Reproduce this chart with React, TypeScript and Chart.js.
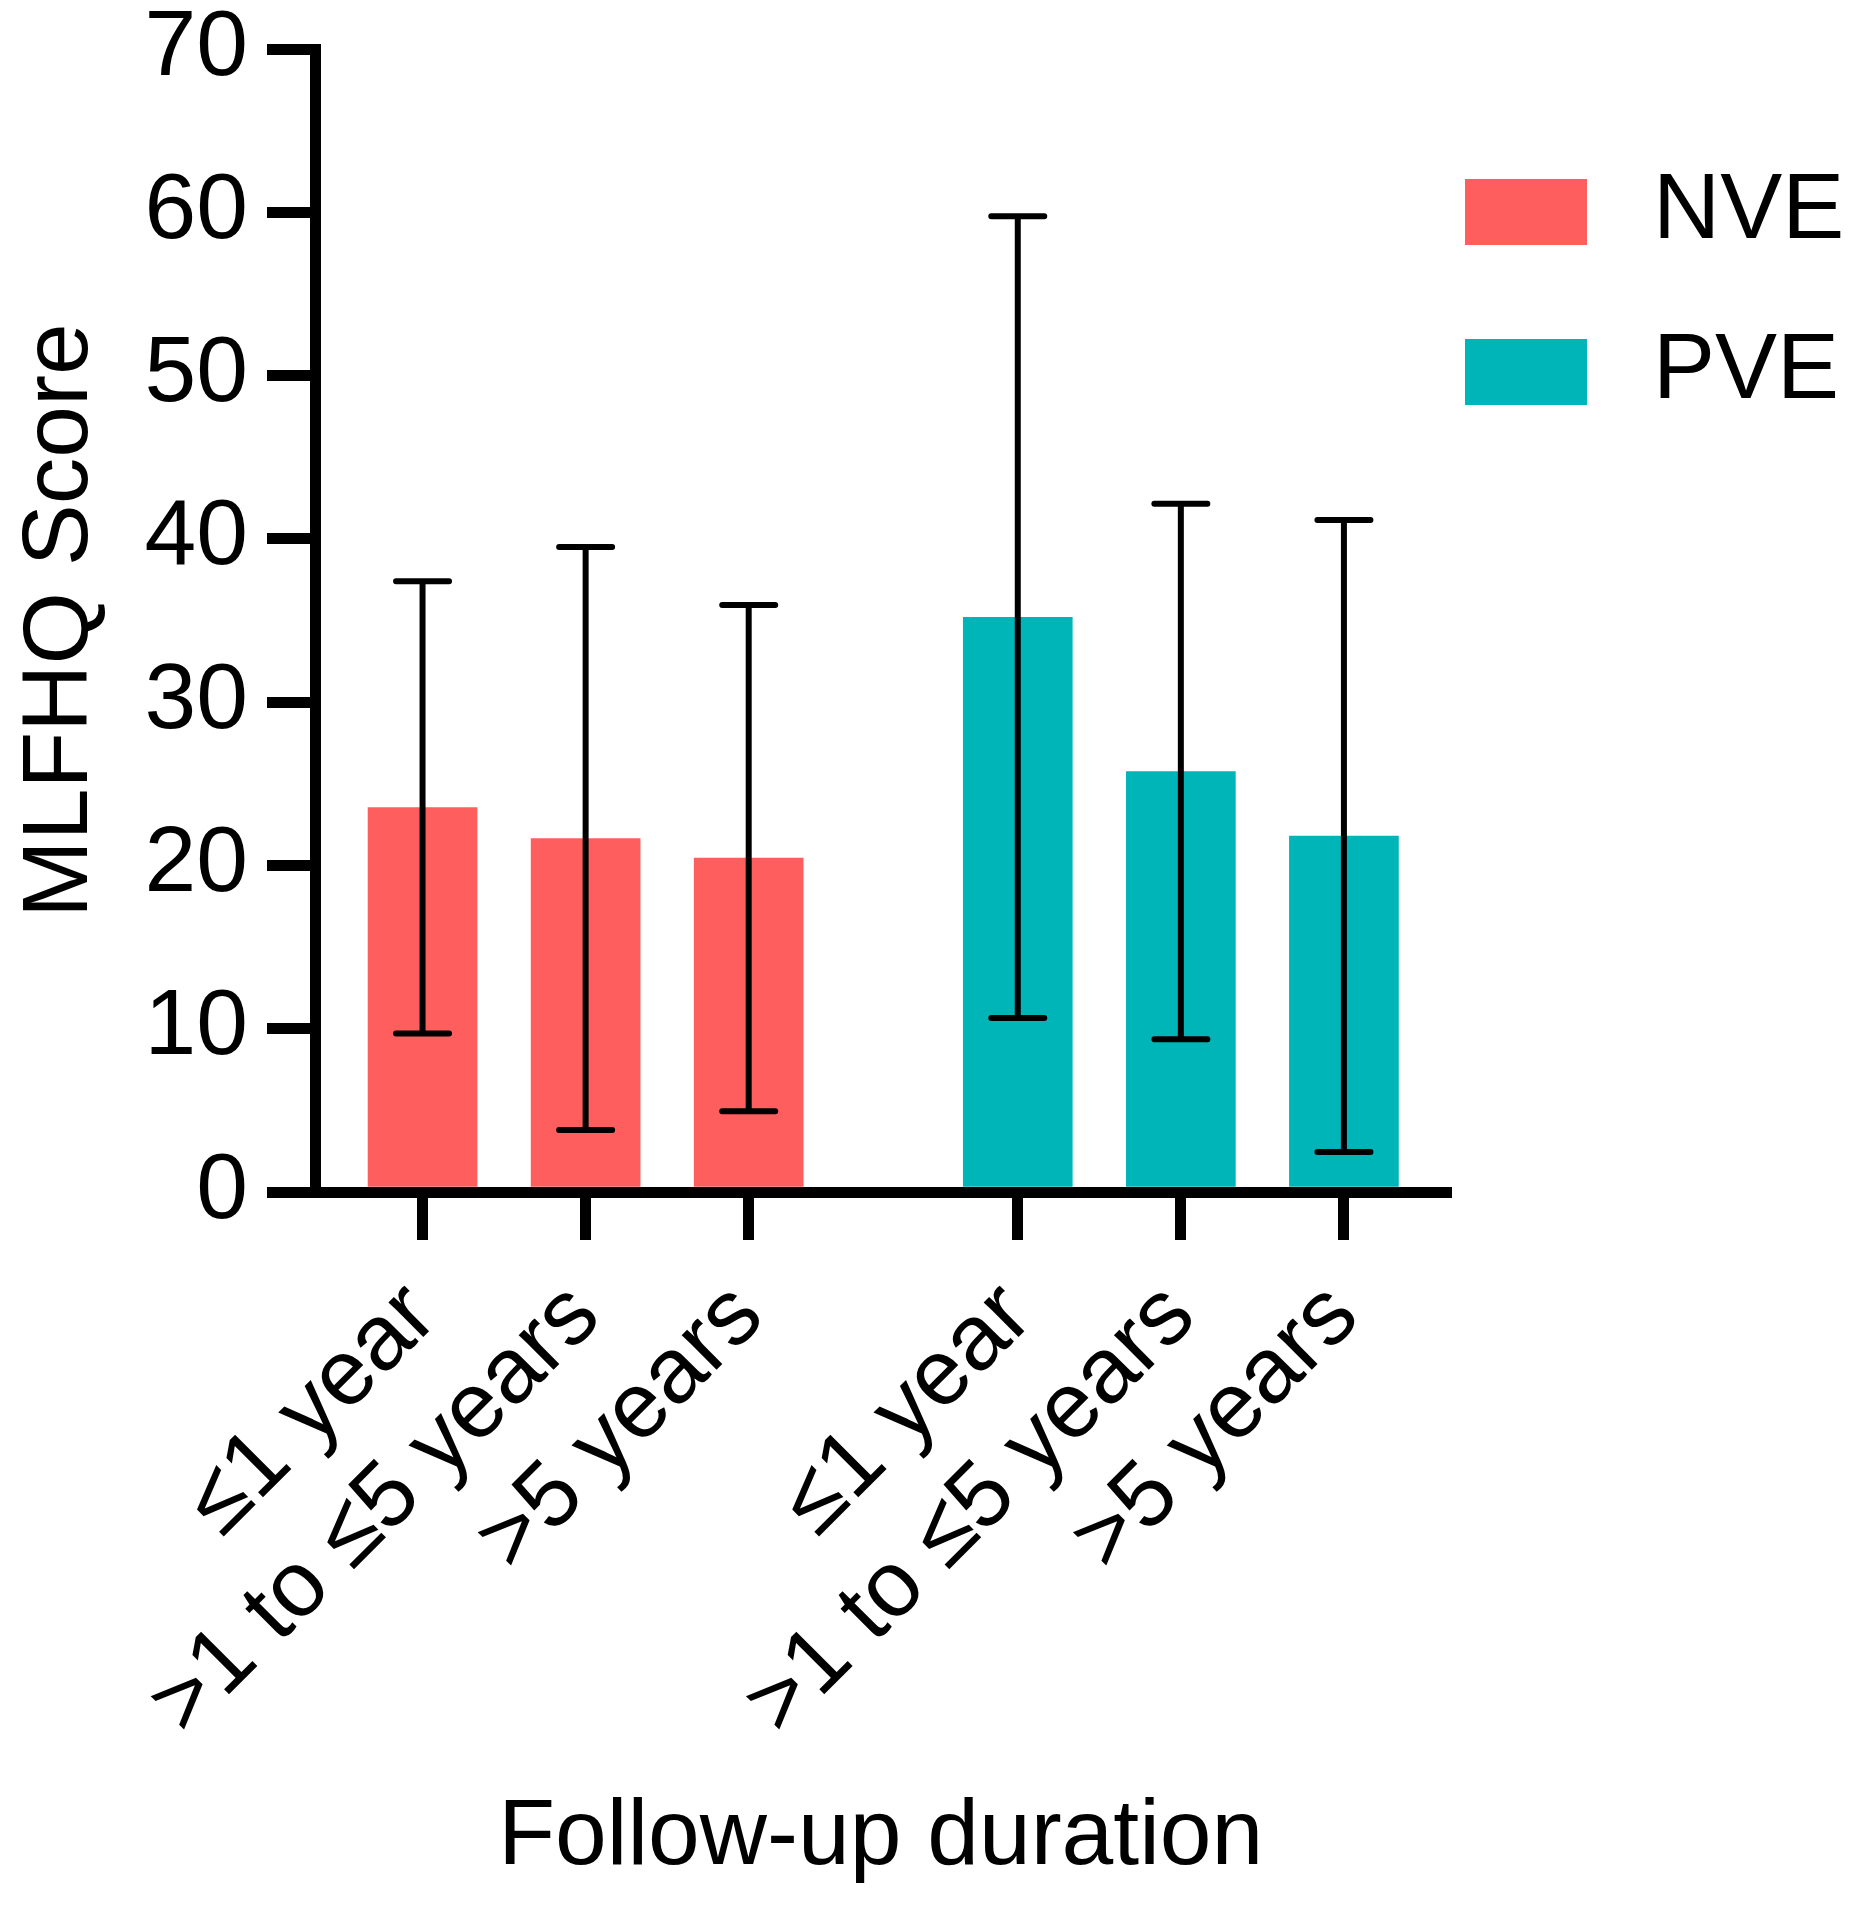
import React, { useEffect, useRef } from "react";
import { Chart, registerables } from "chart.js";

Chart.register(...registerables);

// ---- Data ----
const seriesNames = ["NVE", "PVE"];
const categoryLabels = ["≤1 year", ">1 to ≤5 years", ">5 years"];
const nvePositions = [1, 2, 3];
const pvePositions = [4.65, 5.65, 6.65];
const nveMeans = [23.55, 21.65, 20.45];
const nveSD = [13.85, 17.85, 15.5];
const pveMeans = [35.2, 25.75, 21.8];
const pveSD = [24.55, 16.4, 19.35];
const yTickValues = [0, 10, 20, 30, 40, 50, 60, 70];
const xTickPositions = [...nvePositions, ...pvePositions];
const xTickLabels = [...categoryLabels, ...categoryLabels];
const seriesColors = ["#FF5E5E", "#00B5B8"];
const errorArrays = [nveSD, pveSD];
const yTitle = "MLFHQ Score";
const xTitle = "Follow-up duration";

const FONT = "'Liberation Sans', Arial, Helvetica, sans-serif";
const FS = 93;

const errorBarPlugin = {
  id: "errorBars",
  afterDatasetsDraw(chart: any) {
    const ctx = chart.ctx;
    const xs = chart.scales.x;
    const ys = chart.scales.y;
    chart.data.datasets.forEach((ds: any, di: number) => {
      const errs = errorArrays[di];
      ds.data.forEach((pt: any, i: number) => {
        const x = xs.getPixelForValue(pt.x);
        const yTop = ys.getPixelForValue(pt.y + errs[i]);
        const yBot = ys.getPixelForValue(pt.y - errs[i]);
        ctx.save();
        ctx.strokeStyle = "#000";
        ctx.lineWidth = 6;
        ctx.lineCap = "butt";
        ctx.beginPath();
        ctx.moveTo(x, yTop);
        ctx.lineTo(x, yBot);
        ctx.stroke();
        ctx.lineCap = "round";
        ctx.beginPath();
        ctx.moveTo(x - 26.5, yTop);
        ctx.lineTo(x + 26.5, yTop);
        ctx.moveTo(x - 26.5, yBot);
        ctx.lineTo(x + 26.5, yBot);
        ctx.stroke();
        ctx.restore();
      });
    });
  },
};

const sideLegendPlugin = {
  id: "sideLegend",
  afterDraw(chart: any) {
    const ctx = chart.ctx;
    const { right, top } = chart.chartArea;
    const boxX = right + 18.5;
    chart.data.datasets.forEach((ds: any, i: number) => {
      const boxY = top + 130 + i * 160;
      ctx.save();
      ctx.fillStyle = ds.backgroundColor;
      ctx.fillRect(boxX, boxY, 122, 66);
      ctx.fillStyle = "#000";
      ctx.font = `${FS}px ${FONT}`;
      ctx.textAlign = "left";
      ctx.textBaseline = "middle";
      ctx.fillText(ds.label, boxX + 188, boxY + 33);
      ctx.restore();
    });
  },
};

export default function App() {
  const canvasRef = useRef<HTMLCanvasElement | null>(null);

  useEffect(() => {
    document.body.style.margin = "0";
    const canvas = canvasRef.current;
    if (!canvas) return;
    const chart = new Chart(canvas, {
      type: "bar",
      data: {
        datasets: [
          {
            label: seriesNames[0],
            data: nvePositions.map((x, i) => ({ x, y: nveMeans[i] })),
            backgroundColor: seriesColors[0],
            borderWidth: 0,
            barThickness: 109,
            grouped: false,
          } as any,
          {
            label: seriesNames[1],
            data: pvePositions.map((x, i) => ({ x, y: pveMeans[i] })),
            backgroundColor: seriesColors[1],
            borderWidth: 0,
            barThickness: 109,
            grouped: false,
          } as any,
        ],
      },
      options: {
        animation: false,
        responsive: false,
        devicePixelRatio: 1,
        events: [],
        layout: { padding: { top: 49, left: 0, right: 405.5, bottom: 0 } },
        plugins: {
          legend: { display: false },
          tooltip: { enabled: false },
        },
        scales: {
          x: {
            type: "linear",
            min: 0.3405,
            max: 7.279,
            offset: false,
            z: 1,
            afterBuildTicks: (s: any) => {
              s.ticks = xTickPositions.map((v) => ({ value: v }));
            },
            afterFit: (s: any) => {
              s.height = 720;
            },
            grid: {
              offset: false,
              drawOnChartArea: false,
              drawTicks: true,
              tickLength: 48,
              lineWidth: 11,
              color: "#000",
            },
            border: { display: true, width: 11, color: "#000" },
            ticks: {
              autoSkip: false,
              minRotation: 45,
              maxRotation: 45,
              padding: 22,
              color: "#000",
              font: { family: FONT, size: FS },
              callback: (_v: any, i: number) => xTickLabels[i],
            },
            title: {
              display: true,
              text: xTitle,
              color: "#000",
              font: { family: FONT, size: FS },
              padding: { top: 0, bottom: 18 },
            },
          } as any,
          y: {
            type: "linear",
            min: 0,
            max: 70,
            z: 1,
            afterBuildTicks: (s: any) => {
              s.ticks = yTickValues.map((v) => ({ value: v }));
            },
            afterFit: (s: any) => {
              s.width = 315;
            },
            grid: {
              drawOnChartArea: false,
              drawTicks: true,
              tickLength: 48,
              lineWidth: 11,
              color: "#000",
            },
            border: { display: true, width: 11, color: "#000" },
            ticks: {
              color: "#000",
              padding: 19,
              font: { family: FONT, size: FS, lineHeight: 0.6 },
            },
            title: {
              display: true,
              text: yTitle,
              color: "#000",
              font: { family: FONT, size: FS },
              padding: { top: 6, bottom: 0 },
            },
          } as any,
        },
      } as any,
      plugins: [errorBarPlugin, sideLegendPlugin],
    });
    return () => chart.destroy();
  }, []);

  return (
    <div
      style={{
        position: "fixed",
        left: 0,
        top: 0,
        width: 1852,
        height: 1912,
        background: "#fff",
      }}
    >
      <canvas
        ref={canvasRef}
        width={1852}
        height={1912}
        style={{ display: "block", width: 1852, height: 1912 }}
      />
    </div>
  );
}
